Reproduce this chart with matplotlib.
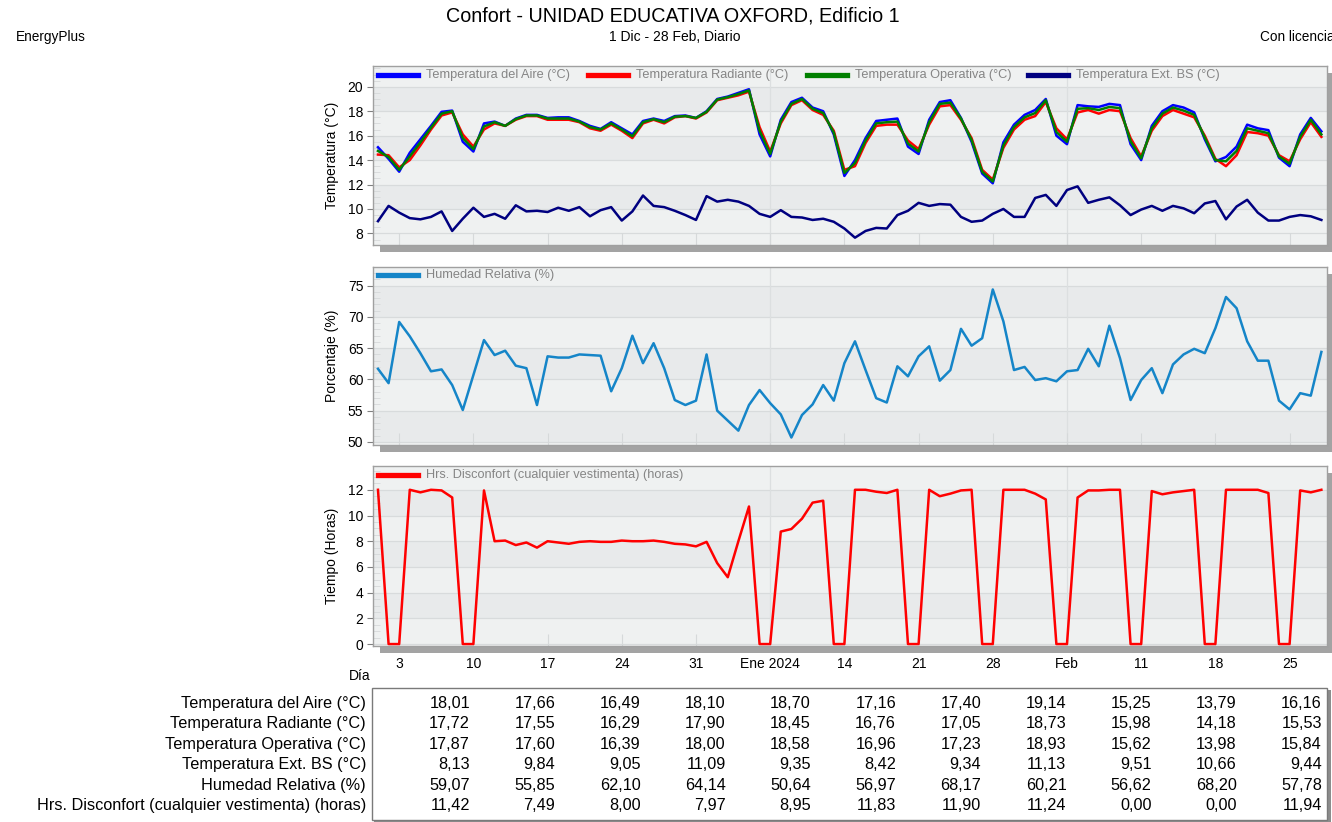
import numpy as np
import matplotlib.pyplot as plt
from matplotlib.patches import Rectangle
from matplotlib.lines import Line2D
from matplotlib.ticker import AutoMinorLocator

plt.rcParams['font.family'] = ['Liberation Sans', 'DejaVu Sans']

# --- datos diarios, 1 Dic 2023 - 28 Feb 2024 ---
dias = np.arange(90)

t_aire = [15.05, 14.1, 13.05, 14.6, 15.7, 16.8, 17.95, 18.05, 15.5, 14.7,
          17.0, 17.15, 16.8, 17.4, 17.7, 17.7, 17.45, 17.5, 17.5, 17.2,
          16.8, 16.55, 17.1, 16.6, 16.1, 17.2, 17.4, 17.2, 17.6, 17.65,
          17.45, 18.0, 19.0, 19.2, 19.5, 19.8, 16.1, 14.3, 17.3, 18.75,
          19.1, 18.3, 18.0, 16.1, 12.7, 14.0, 15.8, 17.2, 17.3, 17.4,
          15.1, 14.5, 17.3, 18.75, 18.9, 17.45, 15.5, 12.9, 12.1, 15.45,
          16.9, 17.7, 18.1, 19.0, 16.0, 15.3, 18.5, 18.4, 18.35, 18.6,
          18.5, 15.3, 14.0, 16.8, 18.0, 18.5, 18.3, 17.9, 15.7, 13.9,
          14.25, 15.1, 16.9, 16.6, 16.45, 14.2, 13.5, 16.1, 17.45, 16.35]
t_rad = [14.45, 14.4, 13.4, 14.0, 15.2, 16.5, 17.65, 17.9, 16.1, 15.1,
         16.5, 17.0, 16.8, 17.3, 17.6, 17.6, 17.3, 17.3, 17.3, 17.1,
         16.6, 16.4, 16.9, 16.4, 15.8, 17.0, 17.3, 17.0, 17.5, 17.6,
         17.4, 17.9, 18.9, 19.1, 19.3, 19.6, 16.7, 14.7, 17.0, 18.5,
         18.9, 18.1, 17.7, 16.4, 13.2, 13.5, 15.4, 16.8, 16.9, 16.9,
         15.6, 14.9, 16.9, 18.4, 18.5, 17.3, 15.8, 13.2, 12.4, 15.0,
         16.5, 17.3, 17.6, 18.75, 16.6, 15.7, 17.9, 18.1, 17.8, 18.1,
         18.0, 15.8, 14.3, 16.4, 17.6, 18.1, 17.8, 17.5, 16.0, 14.1,
         13.5, 14.4, 16.3, 16.2, 16.0, 14.4, 13.9, 15.7, 17.1, 15.9]
t_oper = [14.75, 14.25, 13.2, 14.3, 15.45, 16.65, 17.8, 18.0, 15.8, 14.9,
          16.75, 17.1, 16.8, 17.35, 17.65, 17.65, 17.4, 17.4, 17.4, 17.15,
          16.7, 16.5, 17.0, 16.5, 15.95, 17.1, 17.35, 17.1, 17.55, 17.6,
          17.45, 17.95, 18.95, 19.15, 19.4, 19.7, 16.4, 14.5, 17.15, 18.6,
          19.0, 18.2, 17.85, 16.25, 12.95, 13.75, 15.6, 17.0, 17.1, 17.15,
          15.35, 14.7, 17.1, 18.6, 18.7, 17.4, 15.65, 13.05, 12.25, 15.2,
          16.7, 17.5, 17.85, 18.9, 16.3, 15.5, 18.2, 18.25, 18.1, 18.35,
          18.25, 15.55, 14.15, 16.6, 17.8, 18.3, 18.05, 17.7, 15.85, 14.0,
          13.9, 14.75, 16.6, 16.4, 16.2, 14.3, 13.7, 15.9, 17.3, 16.1]
t_ext = [9.0, 10.25, 9.7, 9.25, 9.15, 9.35, 9.8, 8.2, 9.2, 10.1,
         9.35, 9.6, 9.2, 10.3, 9.8, 9.85, 9.75, 10.1, 9.85, 10.15,
         9.4, 9.9, 10.15, 9.05, 9.8, 11.1, 10.25, 10.15, 9.85, 9.5,
         9.1, 11.05, 10.6, 10.75, 10.6, 10.25, 9.6, 9.35, 9.9, 9.35,
         9.3, 9.1, 9.2, 8.95, 8.4, 7.65, 8.2, 8.45, 8.4, 9.5,
         9.85, 10.5, 10.25, 10.4, 10.35, 9.35, 8.95, 9.05, 9.6, 10.0,
         9.35, 9.35, 10.9, 11.15, 10.25, 11.55, 11.85, 10.5, 10.75, 10.95,
         10.3, 9.5, 9.95, 10.25, 9.85, 10.25, 10.05, 9.65, 10.45, 10.65,
         9.15, 10.2, 10.75, 9.7, 9.05, 9.05, 9.35, 9.5, 9.4, 9.1]
hum_rel = [61.7, 59.4, 69.2, 66.9, 64.2, 61.3, 61.6, 59.1, 55.1, 60.7,
           66.3, 63.9, 64.6, 62.2, 61.8, 55.9, 63.7, 63.5, 63.5, 64.0,
           63.9, 63.8, 58.1, 61.8, 67.0, 62.6, 65.8, 61.8, 56.7, 55.9,
           56.6, 64.0, 55.0, 53.4, 51.8, 55.9, 58.3, 56.2, 54.4, 50.7,
           54.3, 56.0, 59.1, 56.6, 62.6, 66.1, 61.5, 57.0, 56.3, 62.1,
           60.5, 63.7, 65.3, 59.8, 61.5, 68.1, 65.4, 66.6, 74.4, 69.3,
           61.5, 62.0, 59.9, 60.2, 59.7, 61.3, 61.5, 64.9, 62.1, 68.6,
           63.4, 56.7, 59.9, 61.8, 57.8, 62.4, 64.0, 64.9, 64.2, 68.2,
           73.2, 71.4, 66.1, 63.0, 63.0, 56.6, 55.2, 57.8, 57.4, 64.4]
hrs_disc = [12.0, 0, 0, 12.0, 11.8, 12.0, 11.95, 11.4, 0, 0,
            11.95, 8.0, 8.05, 7.7, 7.9, 7.5, 8.0, 7.9, 7.8, 7.95,
            8.0, 7.95, 7.95, 8.05, 8.0, 8.0, 8.05, 7.95, 7.8, 7.75,
            7.6, 7.95, 6.3, 5.2, 8.0, 10.7, 0, 0, 8.75, 8.95,
            9.75, 11.0, 11.15, 0, 0, 12.0, 12.0, 11.85, 11.75, 12.0,
            0, 0, 12.0, 11.5, 11.7, 11.95, 12.0, 0, 0, 12.0,
            12.0, 12.0, 11.7, 11.25, 0, 0, 11.4, 11.95, 11.95, 12.0,
            12.0, 0, 0, 11.9, 11.65, 11.8, 11.9, 12.0, 0, 0,
            12.0, 12.0, 12.0, 12.0, 11.75, 0, 0, 11.95, 11.8, 12.0]

tick_dias = [2, 9, 16, 23, 30, 37, 44, 51, 58, 65, 72, 79, 86]
tick_labels = ['3', '10', '17', '24', '31', 'Ene 2024', '14', '21', '28',
               'Feb', '11', '18', '25']
mes_dias = [37, 65]

tabla_filas = ['Temperatura del Aire (°C)', 'Temperatura Radiante (°C)',
               'Temperatura Operativa (°C)', 'Temperatura Ext. BS (°C)',
               'Humedad Relativa (%)',
               'Hrs. Disconfort (cualquier vestimenta) (horas)']
tabla_vals = [
    ['18,01', '17,66', '16,49', '18,10', '18,70', '17,16', '17,40', '19,14', '15,25', '13,79', '16,16'],
    ['17,72', '17,55', '16,29', '17,90', '18,45', '16,76', '17,05', '18,73', '15,98', '14,18', '15,53'],
    ['17,87', '17,60', '16,39', '18,00', '18,58', '16,96', '17,23', '18,93', '15,62', '13,98', '15,84'],
    ['8,13', '9,84', '9,05', '11,09', '9,35', '8,42', '9,34', '11,13', '9,51', '10,66', '9,44'],
    ['59,07', '55,85', '62,10', '64,14', '50,64', '56,97', '68,17', '60,21', '56,62', '68,20', '57,78'],
    ['11,42', '7,49', '8,00', '7,97', '8,95', '11,83', '11,90', '11,24', '0,00', '0,00', '11,94'],
]

W, H = 1332, 822
fig = plt.figure(figsize=(W / 100, H / 100), dpi=100)
fig.patch.set_facecolor('white')

X0, X1 = 373, 1327
BAND_A, BAND_B = '#eff1f1', '#e8eaeb'
GRID = '#d8dbdc'
LEG_TXT = '#858585'


def fx(px):
    return px / W


def fy(py):
    return 1 - py / H


leg_labels = {
    'Temperatura (°C)': ['Temperatura del Aire (°C)', 'Temperatura Radiante (°C)',
                         'Temperatura Operativa (°C)', 'Temperatura Ext. BS (°C)'],
    'Porcentaje (%)': ['Humedad Relativa (%)'],
    'Tiempo (Horas)': ['Hrs. Disconfort (cualquier vestimenta) (horas)'],
}


def panel(top, bottom, ylim, yticks, ylabel, series, leg_x, leg_y):
    # sombra
    fig.add_artist(Rectangle((fx(X0 + 7), fy(bottom + 7)), (X1 - X0) / W,
                             (bottom - top) / H, transform=fig.transFigure,
                             facecolor='#a3a3a3', edgecolor='none', zorder=-1))
    ax = fig.add_axes([fx(X0), fy(bottom), (X1 - X0) / W, (bottom - top) / H])
    ax.set_facecolor(BAND_A)
    for k in range(len(yticks) - 1):
        if (len(yticks) - 2 - k) % 2 == 0:
            ax.axhspan(yticks[k], yticks[k + 1], color=BAND_B, lw=0, zorder=0)
    for v in yticks:
        ax.axhline(v, color=GRID, lw=0.9, zorder=0.5)
    for d in mes_dias:
        ax.axvline(d, color='#dcdfe0', lw=0.9, zorder=0.5)
    for vals, color in series:
        ax.plot(dias, vals, color=color, lw=1.8, zorder=2)
    ax.set_xlim(-0.47, 89.53)
    ax.set_ylim(*ylim)
    ax.set_yticks(yticks)
    ax.yaxis.set_minor_locator(AutoMinorLocator())
    ax.tick_params(axis='y', which='major', direction='out', length=4,
                   color='#808080', labelsize=10, pad=3)
    ax.tick_params(axis='y', which='minor', direction='in', length=5,
                   color='#d6d9da')
    ax.set_xticks(tick_dias)
    ax.tick_params(axis='x', direction='in', length=9, color='#d6d9da',
                   labelsize=10, pad=8)
    ax.set_xticklabels([])
    for s in ax.spines.values():
        s.set_color('#a0a0a0')
        s.set_linewidth(1)
    ax.set_ylabel(ylabel, fontsize=10)
    ax.yaxis.set_label_coords(-0.0356, 0.5)
    # leyenda
    for (vals, color), label, lx in zip(series, leg_labels[ylabel], leg_x):
        fig.add_artist(Line2D([fx(lx), fx(lx + 40)], [fy(leg_y), fy(leg_y)],
                              transform=fig.transFigure, color=color, lw=3.8))
        fig.text(fx(lx + 48), fy(leg_y), label, color=LEG_TXT, fontsize=9.2,
                 va='center', ha='left')
    return ax


panel(66, 245, (7.05, 21.7), [8, 10, 12, 14, 16, 18, 20], 'Temperatura (°C)',
      [(t_aire, '#0000ff'), (t_rad, '#ff0000'), (t_oper, '#008000'),
       (t_ext, '#000080')],
      [378, 588, 807, 1028], 75)
panel(267, 445, (49.5, 78.0), [50, 55, 60, 65, 70, 75], 'Porcentaje (%)',
      [(hum_rel, '#1585c8')], [378], 275)
ax3 = panel(466, 646, (-0.15, 13.85), [0, 2, 4, 6, 8, 10, 12], 'Tiempo (Horas)',
            [(hrs_disc, '#ff0000')], [378], 475)
ax3.set_xticklabels(tick_labels)

# titulos
fig.text(fx(673), fy(16), 'Confort - UNIDAD EDUCATIVA OXFORD, Edificio 1',
         ha='center', va='center', fontsize=14.2)
fig.text(fx(675), fy(37), '1 Dic - 28 Feb, Diario', ha='center', va='center',
         fontsize=10)
fig.text(fx(16), fy(37), 'EnergyPlus', ha='left', va='center', fontsize=9.8)
fig.text(fx(1260), fy(37), 'Con licencia', ha='left', va='center', fontsize=9.8)
fig.text(fx(360), fy(676), 'Día', ha='center', va='center', fontsize=10)

# tabla
fig.add_artist(Rectangle((fx(374), fy(822)), (1329 - 372) / W, (822 - 690) / H,
                         transform=fig.transFigure, facecolor='#8c8c8c',
                         edgecolor='none', zorder=-1))
fig.add_artist(Rectangle((fx(372), fy(820)), (1327 - 372) / W, (820 - 688) / H,
                         transform=fig.transFigure, facecolor='white',
                         edgecolor='#7a7a7a', lw=1, zorder=0))
fila_y = [703, 723.5, 744, 764.5, 785, 805.5]
for fila, vals, yy in zip(tabla_filas, tabla_vals, fila_y):
    fig.text(fx(366), fy(yy), fila, ha='right', va='center', fontsize=11.7)
    for k, v in enumerate(vals):
        fig.text(fx(470 + 85.2 * k), fy(yy), v, ha='right', va='center',
                 fontsize=11.7)

fig.savefig('out.png', dpi=100)
